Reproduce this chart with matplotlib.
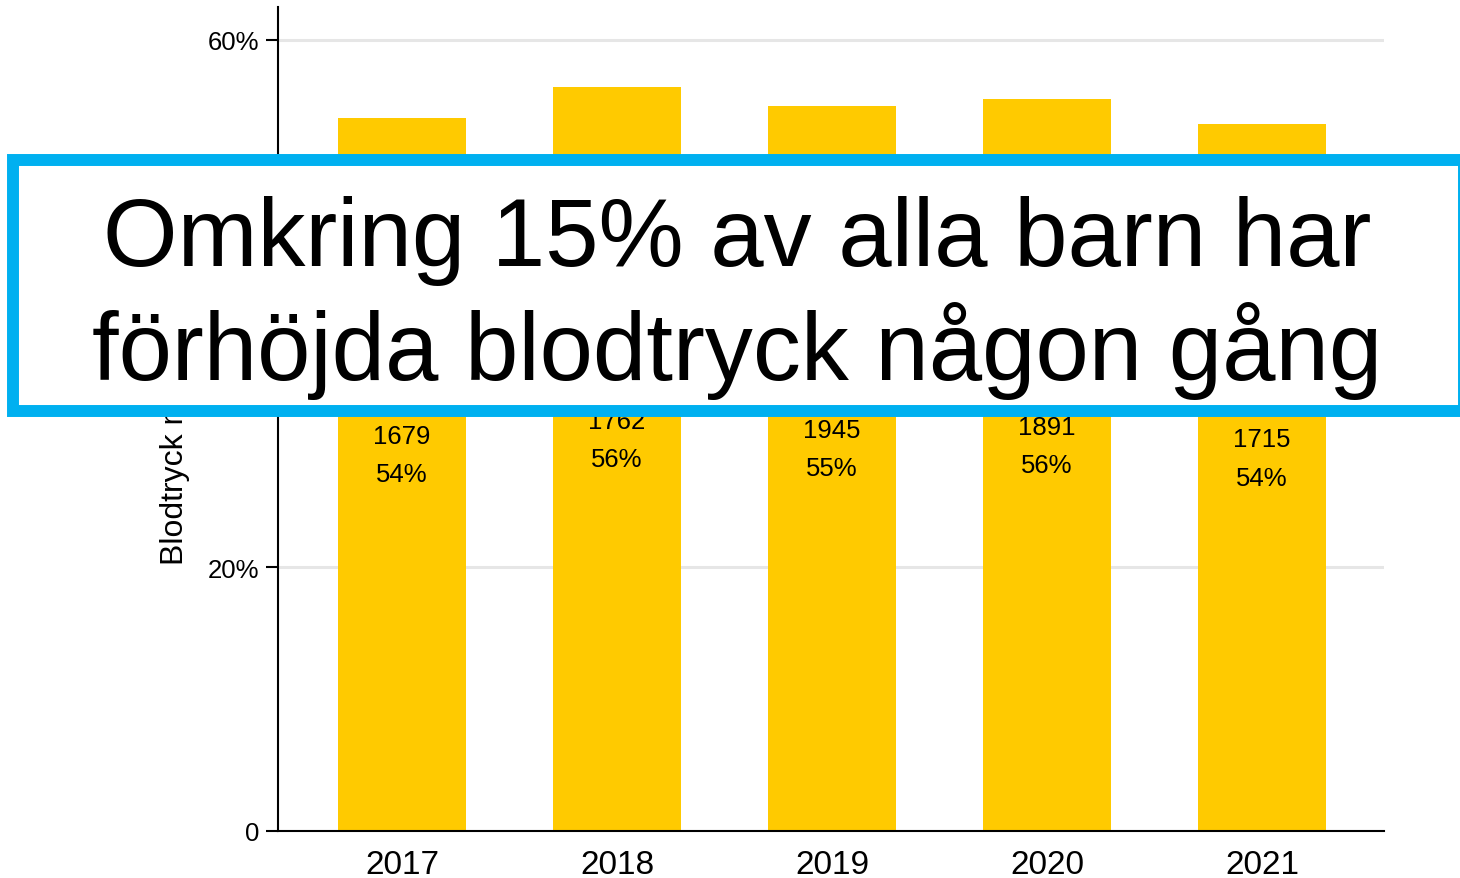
import matplotlib.pyplot as plt
from matplotlib.patches import Rectangle

plt.rcParams['font.family'] = ['Liberation Sans', 'DejaVu Sans']

# data
years = ['2017', '2018', '2019', '2020', '2021']
share = [0.541, 0.564, 0.550, 0.555, 0.536]
counts = ['1679', '1762', '1945', '1891', '1715']
pct_labels = ['54%', '56%', '55%', '56%', '54%']
yticks = [0, 0.2, 0.4, 0.6]
ytick_labels = ['0', '20%', '', '60%']  # 40% sits under the box

W, H = 1460, 879
fig = plt.figure(figsize=(W / 100, H / 100), dpi=100)
ax = fig.add_axes([278 / W, 1 - 832 / H, (1384 - 278) / W, (832 - 8) / H])

x = range(len(years))
ax.bar(x, share, width=0.595, color='#FFCA00', zorder=2)

for i, v in enumerate(share):
    ax.text(i, v / 2, pct_labels[i], ha='center', va='center', fontsize=18.5, zorder=3)
    ax.annotate(counts[i], (i, v / 2), xytext=(0, 27.5), textcoords='offset points',
                ha='center', va='center', fontsize=18.5, zorder=3)

ax.set_xlim(-0.577, 4.567)
ax.set_ylim(0, 0.625)
ax.set_xticks(list(x))
ax.set_xticklabels(years, fontsize=24)
ax.set_yticks(yticks)
ax.set_yticklabels(ytick_labels, fontsize=18.5)
ax.tick_params(axis='x', length=0, pad=13)
ax.tick_params(axis='y', length=8.5, width=1.5, pad=5)
ax.grid(axis='y', color='#E6E6E6', linewidth=2.2, zorder=0)
ax.set_axisbelow(True)
for s in ['top', 'right']:
    ax.spines[s].set_visible(False)
for s in ['left', 'bottom']:
    ax.spines[s].set_linewidth(1.5)

# only the lower part of the y label shows below the box
fig.text(175 / W, 1 - 565 / H, 'Blodtryck m', rotation=90, ha='center', va='bottom', fontsize=23)

# overlay box
box = Rectangle((13 / W, 1 - 412 / H), (1464 - 13) / W, (412 - 161) / H,
                transform=fig.transFigure, facecolor='white', edgecolor='#00B0F0',
                linewidth=8.6, zorder=10, clip_on=False)
fig.patches.append(box)
fig.text(737 / W, 1 - 266 / H, 'Omkring 15% av alla barn har', ha='center', va='baseline',
         fontsize=69, zorder=11)
fig.text(737 / W, 1 - 380 / H, 'förhöjda blodtryck någon gång', ha='center', va='baseline',
         fontsize=69, zorder=11)

fig.savefig('out.png', dpi=100)
